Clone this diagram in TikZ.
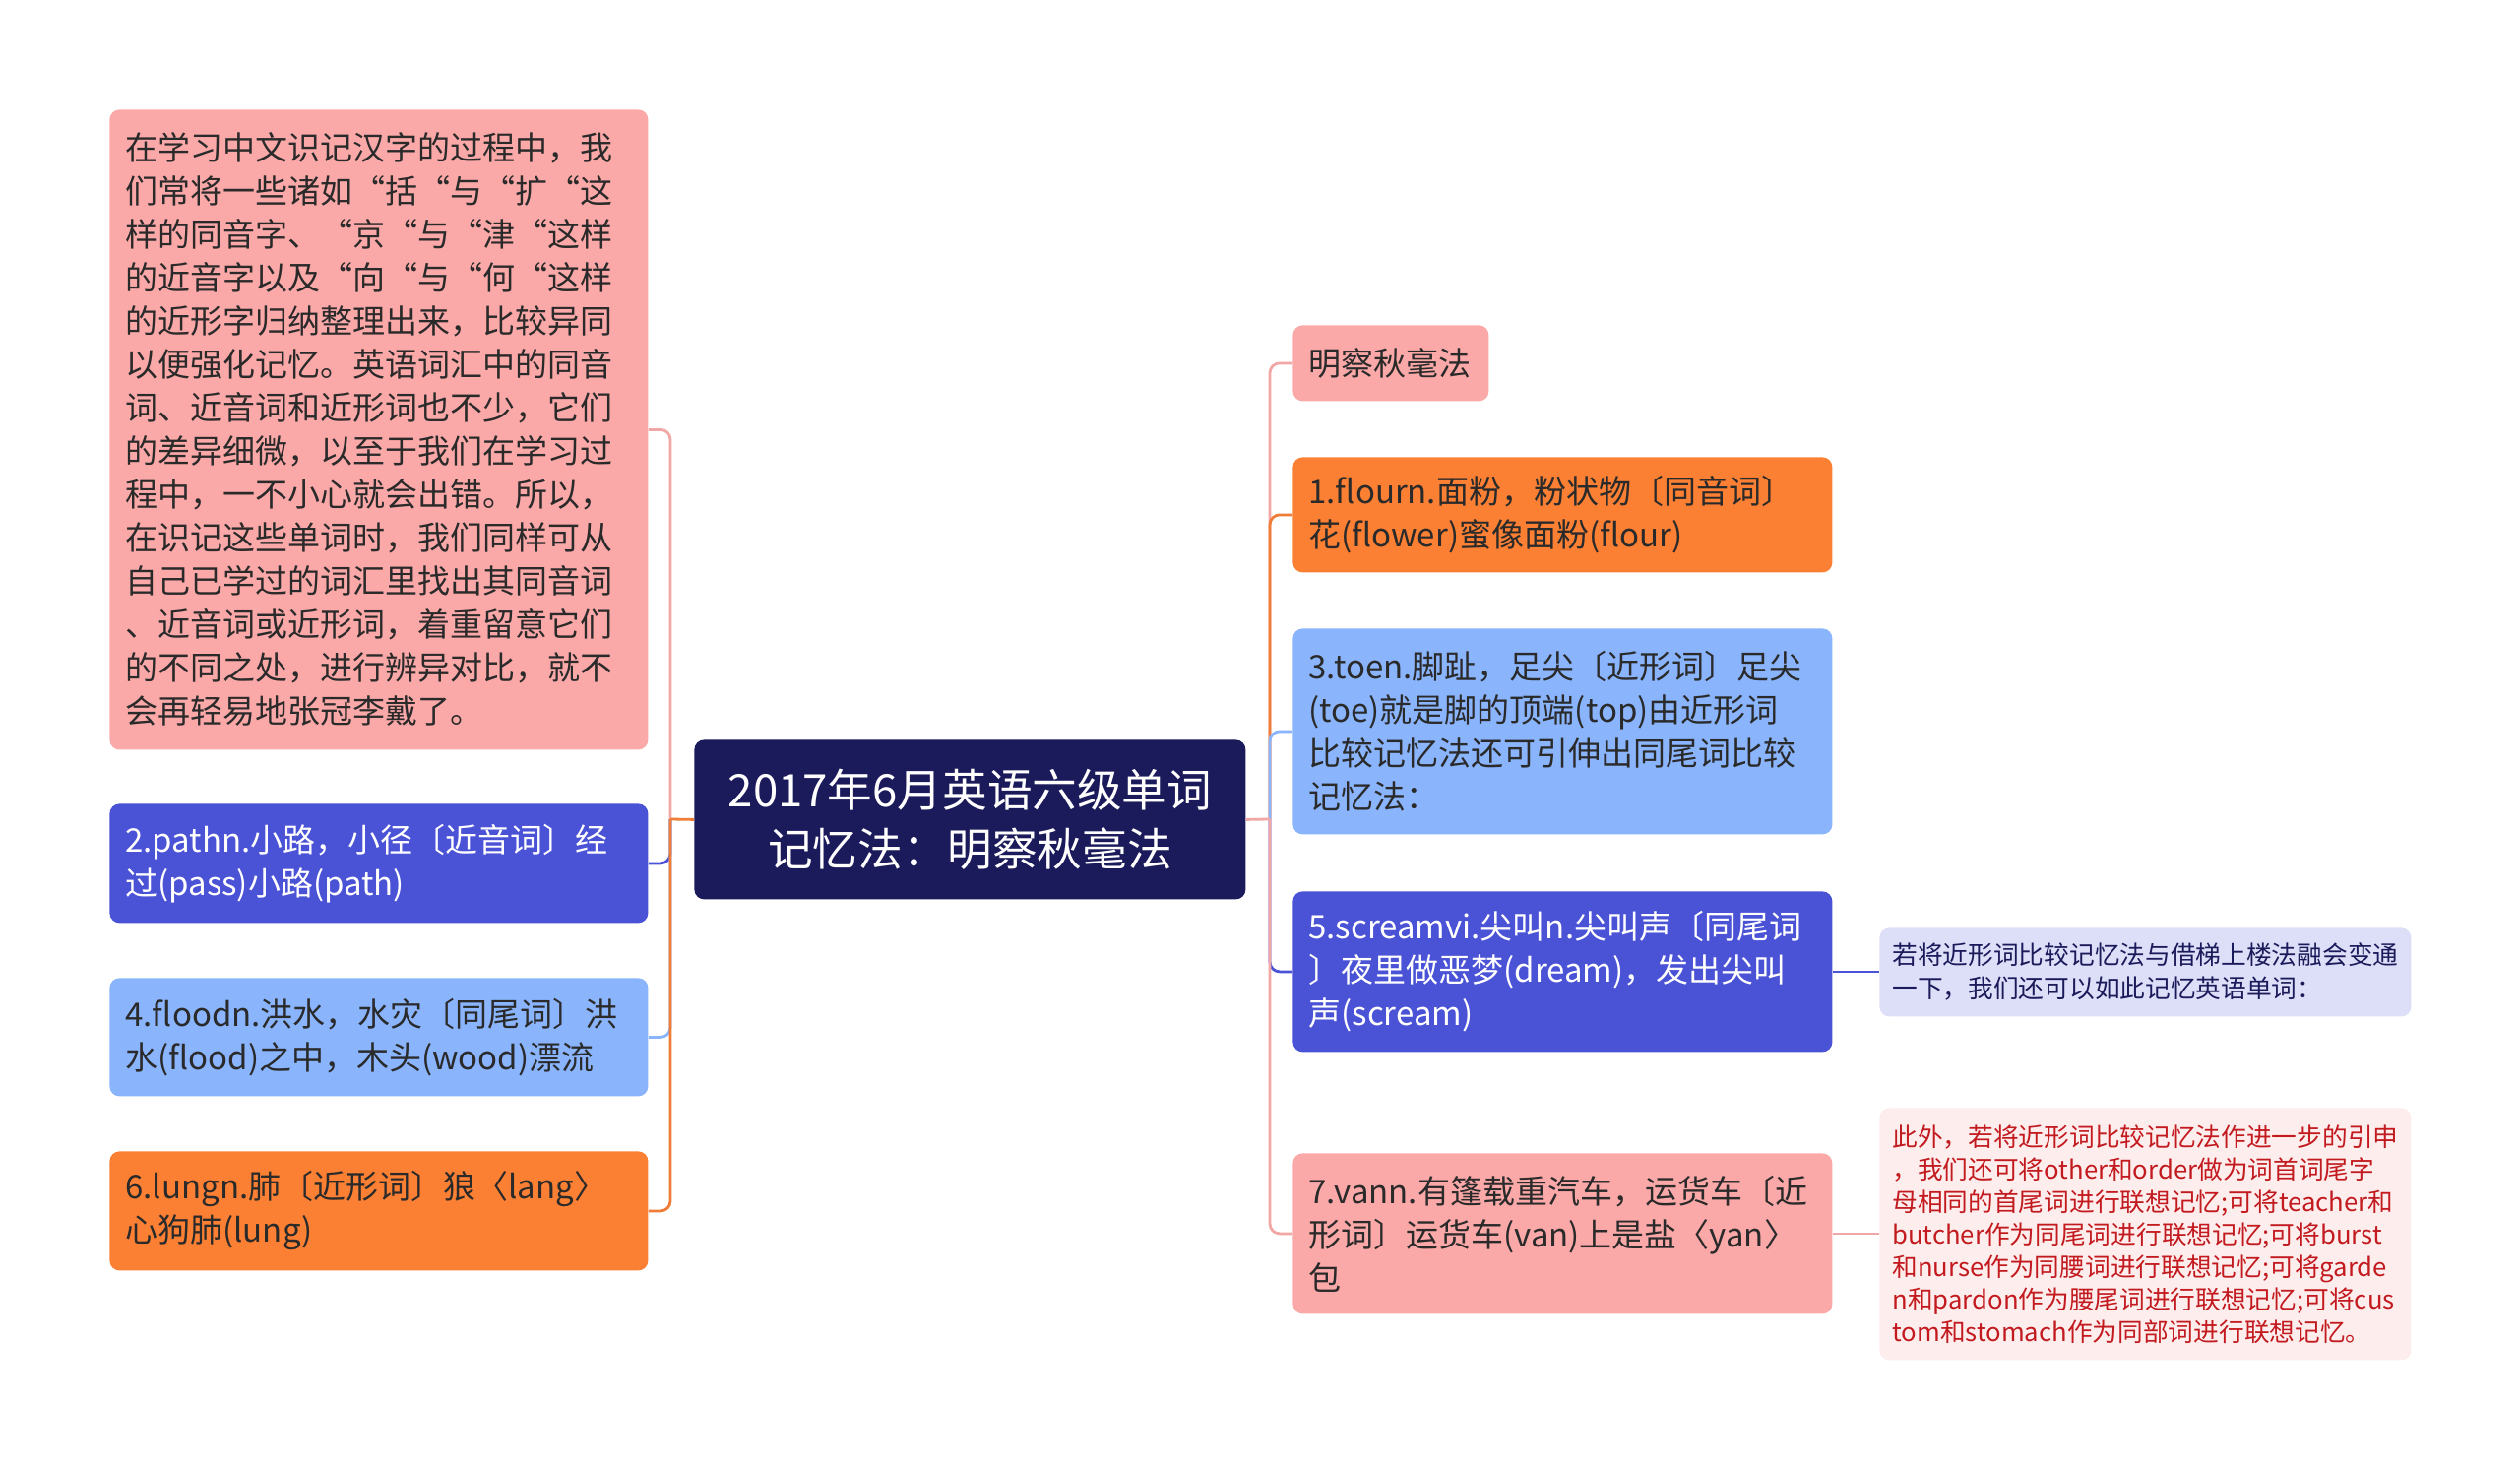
\documentclass[tikz,border=0pt]{standalone}
\usepackage{fontspec}
\setmainfont{Noto Sans CJK SC}
\definecolor{pinkF}{HTML}{FBA9A8}
\definecolor{orangeF}{HTML}{FB8034}
\definecolor{lblueF}{HTML}{8AB4FC}
\definecolor{dblueF}{HTML}{4A52D6}
\definecolor{navyF}{HTML}{1B1A5A}
\definecolor{lavF}{HTML}{DDDEF8}
\definecolor{lpinkF}{HTML}{FDEDEC}
\definecolor{redT}{HTML}{C21A1F}
\definecolor{darkT}{HTML}{2A2A2A}
\definecolor{pinkL}{HTML}{F2A7A7}
\definecolor{orangeL}{HTML}{F07D37}
\definecolor{lblueL}{HTML}{8AB4FC}
\definecolor{dblueL}{HTML}{4A52D6}
\begin{document}
\begin{tikzpicture}[x=1pt,y=-1pt,
  box/.style={rounded corners=5pt, anchor=north west, inner xsep=8pt, inner ysep=0pt,
    align=left, font=\fontsize{16.5}{22}\selectfont},
  small/.style={rounded corners=5pt, anchor=north west, inner xsep=6.5pt, inner ysep=0pt,
    align=left, font=\fontsize{12.85}{17}\selectfont},
  conn/.style={line width=1.4pt, rounded corners=5pt}]
\useasboundingbox (0,0) rectangle (1280,746.5);
\fill[white] (0,0) rectangle (1280,746.5);

% centre
\node[rounded corners=5pt, anchor=north west, fill=navyF, text=white, align=center,
  minimum width=280pt, minimum height=81pt, inner sep=0pt,
  font=\fontsize{22.8}{30}\selectfont] (c) at (352.5,375.5)
  {2017年6月英语六级单词\\记忆法：明察秋毫法};

% left nodes
\node[box, fill=pinkF, text=darkT, text width=257.5pt, minimum height=325pt] (p0) at (55.5,55.5)
  {在学习中文识记汉字的过程中，我\\们常将一些诸如“括“与“扩“这\\样的同音字、“京“与“津“这样\\的近音字以及“向“与“何“这样\\的近形字归纳整理出来，比较异同\\以便强化记忆。英语词汇中的同音\\词、近音词和近形词也不少，它们\\的差异细微，以至于我们在学习过\\程中，一不小心就会出错。所以，\\在识记这些单词时，我们同样可从\\自己已学过的词汇里找出其同音词\\、近音词或近形词，着重留意它们\\的不同之处，进行辨异对比，就不\\会再轻易地张冠李戴了。};
\node[box, fill=dblueF, text=white, text width=257.5pt, minimum height=60.5pt] (n2) at (55.5,408)
  {2.pathn.小路，小径〔近音词〕经\\过(pass)小路(path)};
\node[box, fill=lblueF, text=darkT, text width=257.5pt, minimum height=60pt] (n4) at (55.5,496.5)
  {4.floodn.洪水，水灾〔同尾词〕洪\\水(flood)之中，木头(wood)漂流};
\node[box, fill=orangeF, text=darkT, text width=257.5pt, minimum height=60.5pt] (n6) at (55.5,584.5)
  {6.lungn.肺〔近形词〕狼〈lang〉\\心狗肺(lung)};

% right nodes
\node[box, fill=pinkF, text=darkT, text width=83.5pt, minimum height=38.5pt] (r0) at (656.5,165)
  {明察秋毫法};
\node[box, fill=orangeF, text=darkT, text width=258pt, minimum height=58.5pt] (r1) at (656.5,232)
  {1.flourn.面粉，粉状物〔同音词〕\\花(flower)蜜像面粉(flour)};
\node[box, fill=lblueF, text=darkT, text width=258pt, minimum height=104.5pt] (r3) at (656.5,319)
  {3.toen.脚趾，足尖〔近形词〕足尖\\(toe)就是脚的顶端(top)由近形词\\比较记忆法还可引伸出同尾词比较\\记忆法：};
\node[box, fill=dblueF, text=white, text width=258pt, minimum height=81.5pt] (r5) at (656.5,452.5)
  {5.screamvi.尖叫n.尖叫声〔同尾词\\〕夜里做恶梦(dream)，发出尖叫\\声(scream)};
\node[box, fill=pinkF, text=darkT, text width=258pt, minimum height=81.5pt] (r7) at (656.5,585.5)
  {7.vann.有篷载重汽车，运货车〔近\\形词〕运货车(van)上是盐〈yan〉\\包};

% far right nodes
\node[small, fill=lavF, text=navyF, text width=257pt, minimum height=45pt] (f1) at (954.5,471)
  {若将近形词比较记忆法与借梯上楼法融会变通\\一下，我们还可以如此记忆英语单词：};
\node[small, fill=lpinkF, text=redT, text width=257pt, minimum height=128pt,
  font=\fontsize{12.85}{16.5}\selectfont] (f2) at (954.5,562.5)
  {此外，若将近形词比较记忆法作进一步的引申\\，我们还可将other和order做为词首词尾字\\母相同的首尾词进行联想记忆;可将teacher和\\butcher作为同尾词进行联想记忆;可将burst\\和nurse作为同腰词进行联想记忆;可将garde\\n和pardon作为腰尾词进行联想记忆;可将cus\\tom和stomach作为同部词进行联想记忆。};

% junctions
\coordinate (lj) at (340.5,416);
\coordinate (rj) at (645,416);

% left connectors
\draw[conn, pinkL] (lj) |- (p0.east);
\draw[conn, dblueL] (lj) |- (n2.east);
\draw[conn, lblueL] (lj) |- (n4.east);
\draw[conn, orangeL] (lj) |- (n6.east);
\draw[line width=1.4pt, orangeL] (c.west) -- (lj);

% right connectors
\draw[conn, pinkL] (rj) |- (r0.west);
\draw[conn, orangeL] (rj) |- (r1.west);
\draw[conn, lblueL] (rj) |- (r3.west);
\draw[conn, dblueL] (rj) |- (r5.west);
\draw[conn, pinkL] (rj) |- (r7.west);
\draw[line width=1.4pt, pinkL] (c.east) -- (rj);

% far right connectors
\draw[line width=1.4pt, dblueL] (r5.east) -- (r5.east -| f1.west);
\draw[line width=1.4pt, pinkL] (r7.east) -- (r7.east -| f2.west);
\end{tikzpicture}
\end{document}
